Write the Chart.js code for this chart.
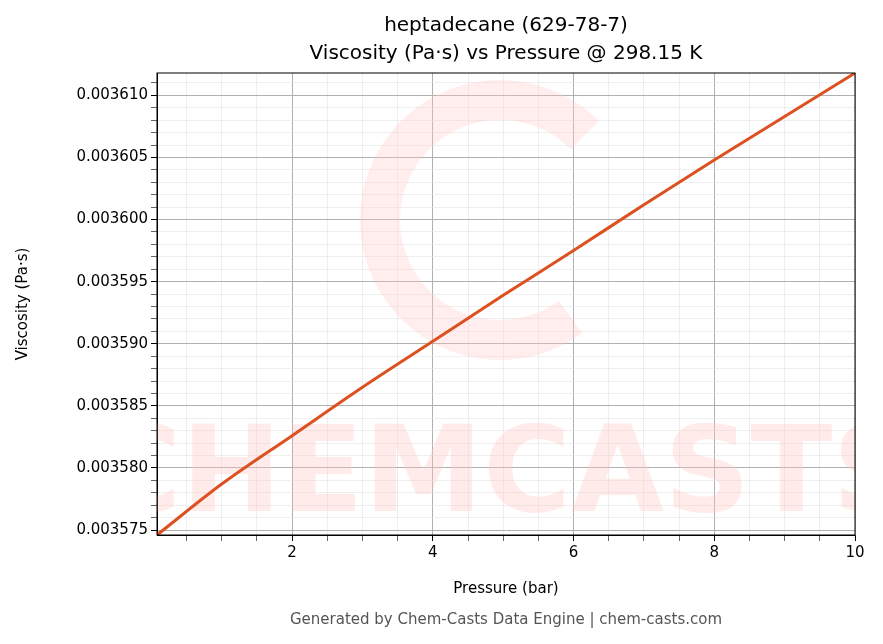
<!DOCTYPE html>
<html>
<head>
<meta charset="utf-8">
<script src="https://cdn.jsdelivr.net/npm/chart.js@4"></script>
<style>
body { margin: 0; background: #fff; }
#wrap { width: 883px; height: 644px; }
</style>
</head>
<body>
<div id="wrap"><canvas id="grafica"></canvas></div>
<script>
const pressure = [0.08, 1, 2, 3, 4, 5, 6, 7, 8, 9, 10];
const viscosity = [0.0035746, 0.0035787, 0.0035826, 0.0035865, 0.0035902, 0.0035939, 0.0035975, 0.0036012, 0.0036048, 0.0036083, 0.0036118];
const xMajor = [2, 4, 6, 8, 10];
const yMajor = [0.003575, 0.00358, 0.003585, 0.00359, 0.003595, 0.0036, 0.003605, 0.00361];
const titleLines = ["heptadecane (629-78-7)", "Viscosity (Pa·s) vs Pressure @ 298.15 K"];

const font = { family: "DejaVu Sans", size: 15 };
const isMajor = (v, list) => list.some(m => Math.abs(m - v) < 1e-9);
const tickMajor = (c, list) => c.tick ? isMajor(c.tick.value, list) : false;

const decor = {
    id: "decor",
    beforeDatasetsDraw(chart) {
        const { ctx, chartArea: a } = chart;
        ctx.save();
        ctx.beginPath();
        ctx.rect(a.left, a.top, a.right - a.left, a.bottom - a.top);
        ctx.clip();
        ctx.fillStyle = "rgba(255, 200, 195, 0.35)";
        ctx.font = "bold 120px 'DejaVu Sans'";
        ctx.textAlign = "center";
        ctx.textBaseline = "middle";
        ctx.fillText("CHEMCASTS", (a.left + a.right) / 2, 480);
        ctx.lineWidth = 40;
        ctx.strokeStyle = "rgba(255, 200, 195, 0.3)";
        ctx.beginPath();
        ctx.arc(500, 220, 120, 0.3 * Math.PI, 1.75 * Math.PI);
        ctx.stroke();
        ctx.restore();
    },
    afterDraw(chart) {
        const ctx = chart.ctx;
        const a = chart.chartArea;
        const cx = (a.left + a.right) / 2;
        ctx.save();
        ctx.fillStyle = "#000";
        ctx.font = "20px 'DejaVu Sans'";
        ctx.textAlign = "center";
        ctx.fillText(titleLines[0], cx, 31);
        ctx.fillText(titleLines[1], cx, 59);
        ctx.fillStyle = "#555";
        ctx.font = "15px 'DejaVu Sans'";
        ctx.fillText("Generated by Chem-Casts Data Engine | chem-casts.com", cx, 624);
        ctx.strokeStyle = "#000";
        ctx.lineWidth = 1;
        ctx.strokeRect(a.left, a.top, a.right - a.left, a.bottom - a.top);
        ctx.restore();
    }
};

new Chart(document.getElementById("grafica").getContext("2d"), {
    type: "line",
    data: {
        datasets: [{
            data: pressure.map((p, i) => ({ x: p, y: viscosity[i] })),
            borderColor: "#dd5020",
            borderWidth: 3,
            pointRadius: 0,
            cubicInterpolationMode: "monotone"
        }]
    },
    options: {
        responsive: true,
        maintainAspectRatio: false,
        animation: false,
        layout: { padding: { top: 73, right: 28, bottom: 38, left: 0 } },
        plugins: {
            legend: { display: false },
            title: { display: false },
            tooltip: { enabled: false }
        },
        scales: {
            x: {
                type: "linear",
                min: 0.08,
                max: 10,
                afterBuildTicks(s) {
                    const t = [];
                    for (let k = 1; k <= 20; k++) t.push({ value: k / 2 });
                    s.ticks = t;
                },
                afterFit(s) { s.height = 71; },
                title: { display: true, text: "Pressure (bar)", color: "#000", font: font, padding: { top: 0, bottom: 8 } },
                ticks: {
                    color: "#000", font: font, maxRotation: 0, autoSkip: false,
                    callback: v => isMajor(v, xMajor) ? String(v) : ""
                },
                grid: {
                    color: c => tickMajor(c, xMajor) ? "#b0b0b0" : "#e4e4e4",
                    lineWidth: c => tickMajor(c, xMajor) ? 1 : 0.6,
                    tickColor: "#000",
                    tickLength: 6
                },
                border: { color: "#000" }
            },
            y: {
                min: 0.0035746,
                max: 0.0036118,
                afterBuildTicks(s) {
                    const t = [];
                    for (let k = 3575; k <= 3611; k++) t.push({ value: k / 1e6 });
                    s.ticks = t;
                },
                afterFit(s) { s.width = 157; },
                title: { display: true, text: "Viscosity (Pa·s)", color: "#000", font: font, padding: { top: 14, bottom: 0 } },
                ticks: {
                    color: "#000", font: font, autoSkip: false,
                    callback: v => isMajor(v, yMajor) ? v.toFixed(6) : ""
                },
                grid: {
                    color: c => tickMajor(c, yMajor) ? "#b0b0b0" : "#e4e4e4",
                    lineWidth: c => tickMajor(c, yMajor) ? 1 : 0.6,
                    tickColor: "#000",
                    tickLength: 6
                },
                border: { color: "#000" }
            }
        }
    },
    plugins: [decor]
});
</script>
</body>
</html>
